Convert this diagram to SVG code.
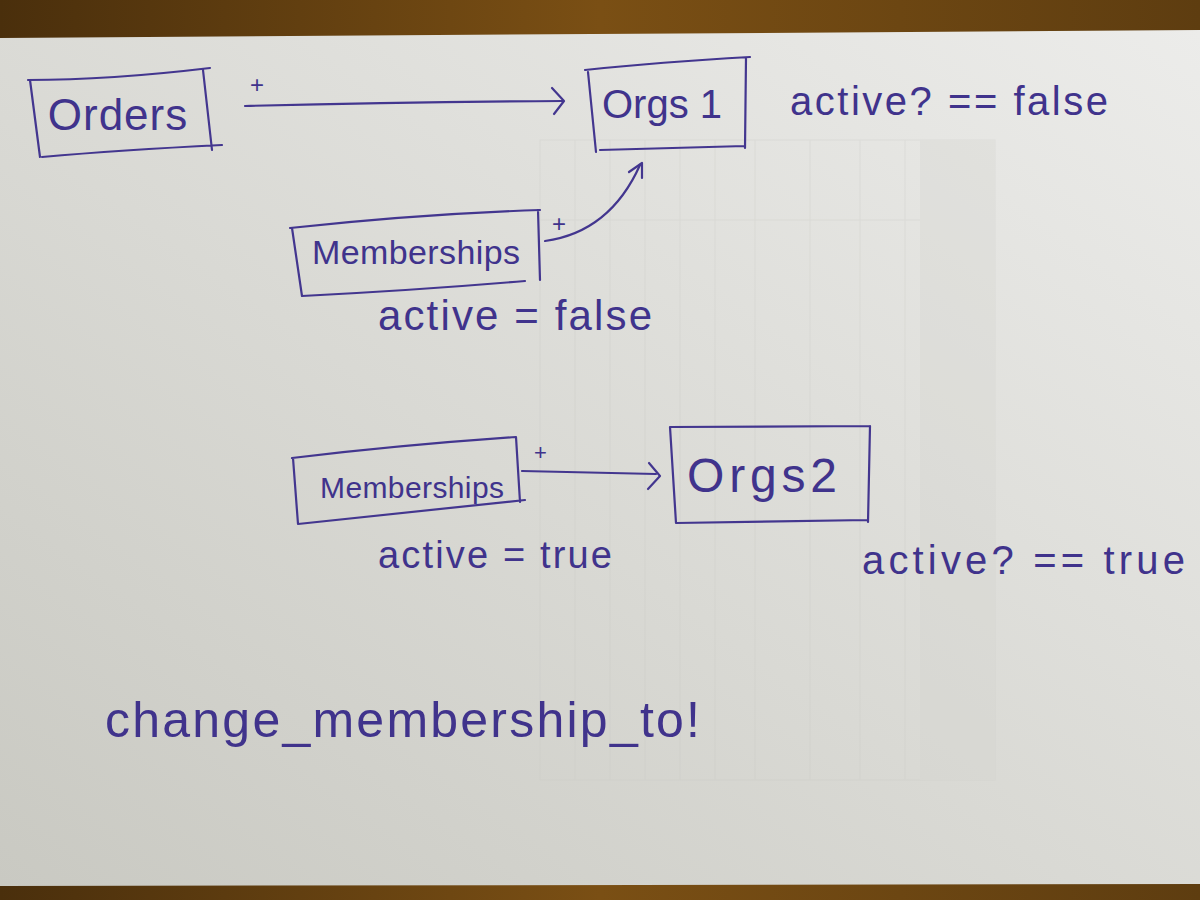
<svg xmlns="http://www.w3.org/2000/svg" width="1200" height="900" viewBox="0 0 1200 900">
  <defs>
    <linearGradient id="wood" x1="0" y1="0" x2="1" y2="0">
      <stop offset="0" stop-color="#4a2f0c"/>
      <stop offset="0.5" stop-color="#7a4f14"/>
      <stop offset="1" stop-color="#5e3d10"/>
    </linearGradient>
    <linearGradient id="paper" x1="0" y1="1" x2="1" y2="0">
      <stop offset="0" stop-color="#c9c9c2"/>
      <stop offset="0.45" stop-color="#d9d9d4"/>
      <stop offset="1" stop-color="#ececea"/>
    </linearGradient>
    <style>
      .ink { fill: none; stroke: #43368f; stroke-width: 2.2; stroke-linecap: round; stroke-linejoin: round; }
      .txt { fill: #40338c; font-family: "Liberation Sans", "DejaVu Sans", sans-serif; }
      .ghost { fill: none; stroke: #c8c8c3; stroke-width: 1; }
    </style>
  </defs>

  <!-- background: table and paper -->
  <rect x="0" y="0" width="1200" height="900" fill="url(#wood)"/>
  <polygon points="0,38 1200,30 1200,884 0,886" fill="url(#paper)"/>
  <!-- faint show-through printed table -->
  <g opacity="0.3">
    <rect x="540" y="140" width="455" height="640" class="ghost"/>
    <line x1="575" y1="140" x2="575" y2="780" class="ghost"/>
    <line x1="610" y1="140" x2="610" y2="780" class="ghost"/>
    <line x1="645" y1="140" x2="645" y2="780" class="ghost"/>
    <line x1="680" y1="140" x2="680" y2="780" class="ghost"/>
    <line x1="715" y1="140" x2="715" y2="780" class="ghost"/>
    <line x1="755" y1="140" x2="755" y2="780" class="ghost"/>
    <line x1="810" y1="140" x2="810" y2="780" class="ghost"/>
    <line x1="860" y1="140" x2="860" y2="780" class="ghost"/>
    <line x1="905" y1="140" x2="905" y2="780" class="ghost"/>
    <line x1="540" y1="220" x2="995" y2="220" class="ghost"/>
    <rect x="920" y="140" width="75" height="640" fill="#d4d4cf" stroke="none"/>
  </g>

  <!-- nodes -->
  <g id="orders">
    <path class="ink" d="M28,80 Q110,80 210,68 M30,80 L40,157 M42,157 Q120,150 222,145 M203,70 L212,150"/>
    <text class="txt" x="118" y="130" font-size="44" text-anchor="middle" letter-spacing="1">Orders</text>
  </g>

  <g id="orgs1">
    <path class="ink" d="M585,70 Q660,62 750,57 M588,72 L596,152 M600,150 Q680,148 745,146 M746,58 L745,148"/>
    <text class="txt" x="662" y="118" font-size="40" text-anchor="middle">Orgs 1</text>
  </g>

  <g id="memberships1">
    <path class="ink" d="M290,228 Q420,214 540,210 M292,228 L302,296 M302,296 Q420,290 525,281 M538,210 L540,280"/>
    <text class="txt" x="416" y="264" font-size="34" text-anchor="middle" textLength="208" lengthAdjust="spacing">Memberships</text>
  </g>

  <g id="memberships2">
    <path class="ink" d="M292,458 Q400,445 516,437 M293,458 L298,524 M298,524 Q410,512 525,500 M516,437 L520,502"/>
    <text class="txt" x="412" y="498" font-size="30" text-anchor="middle" textLength="184" lengthAdjust="spacing">Memberships</text>
  </g>

  <g id="orgs2">
    <path class="ink" d="M670,427 L870,426 M670,427 L676,523 M676,523 L868,520 M870,426 L868,522"/>
    <text class="txt" x="762" y="492" font-size="48" text-anchor="middle" textLength="150" lengthAdjust="spacing">Orgs2</text>
  </g>

  <!-- connectors -->
  <g id="connectors">
    <path class="ink" d="M245,106 Q400,102 563,101"/>
    <path class="ink" d="M552,88 L564,101 L554,114"/>
    <path class="ink" d="M545,241 Q610,232 640,165"/>
    <path class="ink" d="M629,172 L642,163 L642,178"/>
    <path class="ink" d="M522,471 L656,474"/>
    <path class="ink" d="M649,463 L660,476 L648,489"/>
  </g>

  <!-- labels -->
  <g id="labels">
    <text class="txt" x="250" y="93" font-size="24">+</text>
    <text class="txt" x="552" y="232" font-size="24">+</text>
    <text class="txt" x="534" y="460" font-size="22">+</text>
    <text class="txt" x="790" y="115" font-size="40" textLength="318" lengthAdjust="spacing">active? == false</text>
    <text class="txt" x="378" y="330" font-size="42" textLength="274" lengthAdjust="spacing">active = false</text>
    <text class="txt" x="378" y="568" font-size="38" textLength="234" lengthAdjust="spacing">active = true</text>
    <text class="txt" x="862" y="574" font-size="40" textLength="323" lengthAdjust="spacing">active? == true</text>
    <text class="txt" x="105" y="737" font-size="50" textLength="595" lengthAdjust="spacing">change_membership_to!</text>
  </g>
</svg>
